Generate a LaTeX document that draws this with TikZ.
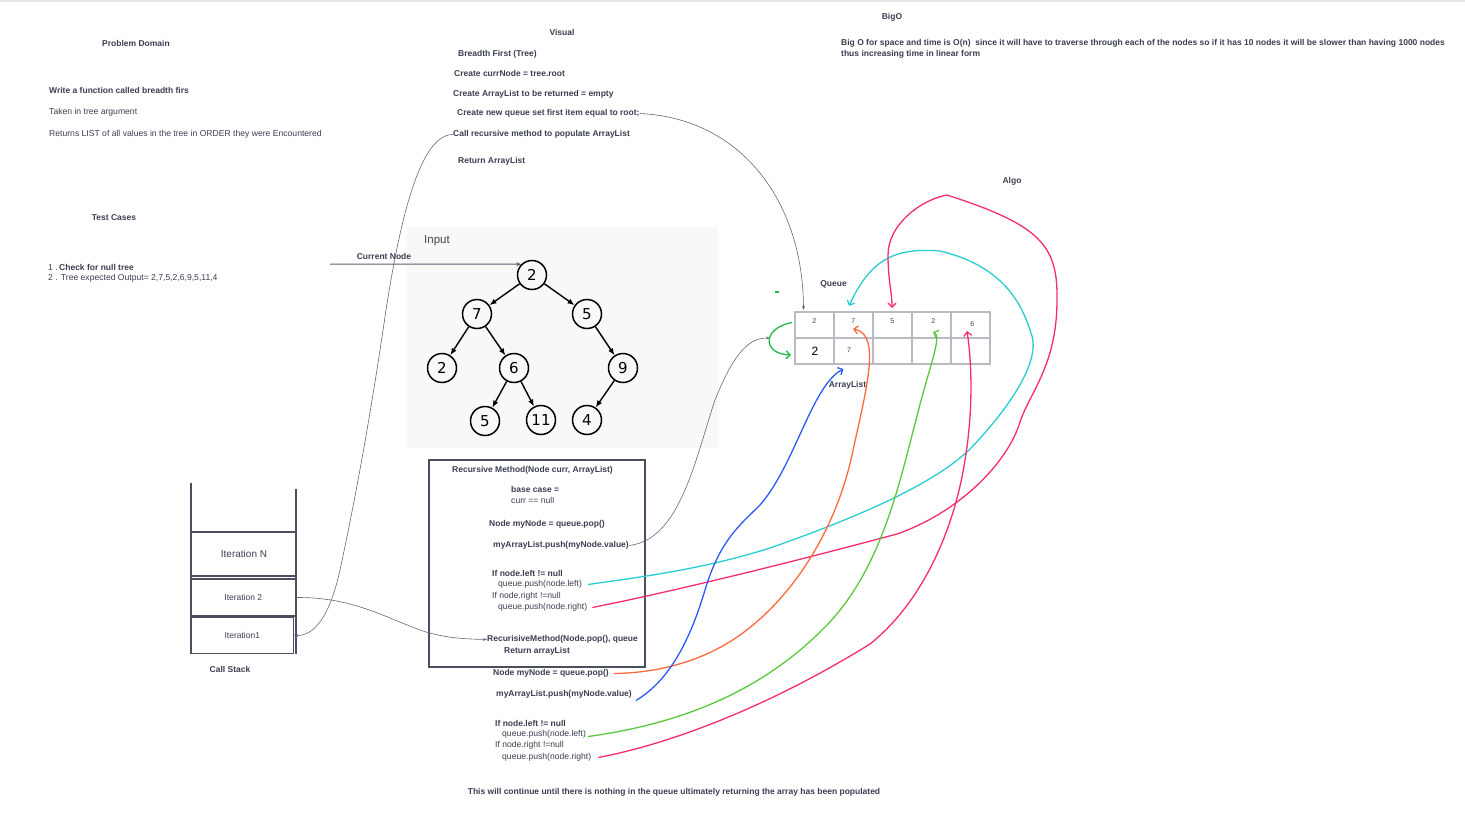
\documentclass[tikz,border=0pt]{standalone}
\usepackage{fontspec}
\setmainfont{Liberation Sans}
\newfontfamily\treefont{DejaVu Sans}
\usetikzlibrary{arrows.meta}
\definecolor{txt}{RGB}{58,62,80}
\definecolor{gridc}{RGB}{185,187,196}
\definecolor{boxc}{RGB}{74,78,94}
\definecolor{conn}{RGB}{100,104,118}
\definecolor{cyanc}{RGB}{40,205,210}
\definecolor{pinkc}{RGB}{245,45,110}
\definecolor{orangec}{RGB}{255,105,60}
\definecolor{bluec}{RGB}{45,90,245}
\definecolor{greenc}{RGB}{90,200,60}
\definecolor{loopc}{RGB}{30,185,70}
\definecolor{panel}{RGB}{248,248,248}
\definecolor{topline}{RGB}{228,228,230}
\begin{document}
\begin{tikzpicture}[x=1pt,y=-1pt,
  bt/.style={font=\fontsize{8.5}{9}\selectfont\bfseries, text=txt, inner sep=0pt, anchor=west},
  rt/.style={font=\fontsize{8.6}{9}\selectfont, text=txt, inner sep=0pt, anchor=west},
  tn/.style={circle, draw=black, line width=1.5pt, minimum size=29pt, inner sep=0pt, font=\treefont\fontsize{15}{15}\selectfont},
  te/.style={-{Latex[length=7pt,width=5.5pt]}, line width=1.4pt},
  cell/.style={draw=gridc, line width=1.3pt, minimum width=39pt, minimum height=26pt, inner sep=0pt},
  ctext/.style={font=\fontsize{7}{8}\selectfont, text=txt, inner sep=0pt},
  stackbox/.style={draw=boxc, line width=1.1pt, inner sep=0pt, text=txt},
  gconn/.style={draw=conn, line width=0.6pt, -{Stealth[length=4pt,width=3pt]}},
  cconn/.style={line width=1.3pt, -{Straight Barb[length=4pt,width=8pt]}}
]
\useasboundingbox (0,0) rectangle (1465,822);
\draw[topline, line width=1.2pt] (0,1) -- (1465,1);

% ---------- left column ----------
\node[bt, anchor=center] (pd) at (136,43.5) {Problem Domain};
\node[bt] (wf) at (49,90.5) {Write a function called breadth firs};
\node[rt] (tk) at (49,112.5) {Taken in tree argument};
\node[rt] (rl) at (49,134.5) {Returns LIST of all values in the tree in ORDER they were Encountered};
\node[bt, anchor=center] (tc) at (114,217.5) {Test Cases};
\node[rt] (tc1) at (48,267.5) {1 .\,{\fontsize{8.5}{9}\selectfont\bfseries Check for null tree}};
\node[rt] (tc2) at (48,278.5) {2 . Tree expected Output= 2,7,5,2,6,9,5,11,4};

% ---------- visual column ----------
\node[bt, anchor=center] (vis) at (562,32.5) {Visual};
\node[bt] (bf) at (458,54.5) {Breadth First (Tree)};
\node[bt] (cc) at (454,73.5) {Create currNode = tree.root};
\node[bt] (ca) at (453,94.5) {Create ArrayList to be returned = empty};
\node[bt] (cq) at (457,113.5) {Create new queue set first item equal to root;};
\node[bt] (cr) at (453,134.5) {Call recursive method to populate ArrayList};
\node[bt] (ra) at (458,161.5) {Return ArrayList};

% ---------- BigO ----------
\node[bt, anchor=center] (bigo) at (892,17.5) {BigO};
\node[bt] (bo1) at (841,43.5) {Big O for space and time is O(n) \ since it will have to traverse through each of the nodes so if it has 10 nodes it will be slower than having 1000 nodes};
\node[bt] (bo2) at (841,54.5) {thus increasing time in linear form};
\node[bt, anchor=center] (algo) at (1012,181.5) {Algo};

% ---------- input panel & tree ----------
\fill[panel] (407,227) rectangle (718,448);
\node[inner sep=0pt, anchor=west, text={rgb,255:red,70;green,70;blue,74}, font=\fontsize{11.5}{12}\selectfont] (inp) at (424,241) {Input};
\node[tn] (r2) at (532,275) {2};
\node[tn] (n7) at (477,314) {7};
\node[tn] (n5) at (587,314) {5};
\node[tn] (l2) at (442,368) {2};
\node[tn] (n6) at (514,368) {6};
\node[tn] (n9) at (623,368) {9};
\node[tn] (m5) at (485,421) {5};
\node[tn] (n11) at (541,420) {11};
\node[tn] (n4) at (587,420) {4};
\draw[te] (r2) -- (n7);
\draw[te] (r2) -- (n5);
\draw[te] (n7) -- (l2);
\draw[te] (n7) -- (n6);
\draw[te] (n5) -- (n9);
\draw[te] (n6) -- (m5);
\draw[te] (n6) -- (n11);
\draw[te] (n9) -- (n4);

\node[bt, anchor=center] (cn) at (384,256.5) {Current Node};
\coordinate (cnstart) at (330,264);
\draw[draw={rgb,255:red,90;green,95;blue,115}, line width=1pt, -{Stealth[length=5pt,width=4pt]}] (cnstart) -- (r2.north west);

% ---------- recursive method box ----------
\node[draw=boxc, line width=1.2pt, minimum width=216pt, minimum height=207pt, inner sep=0pt] (rbox) at (537,563.5) {};
\node[bt] (rh) at (452,470.5) {Recursive Method(Node curr, ArrayList)};
\node[bt] (bc) at (511,489.5) {base case =};
\node[rt] (bc2) at (511,500.5) {curr == null};
\node[bt] (rp) at (489,524.5) {Node myNode = queue.pop()};
\node[bt] (rpush) at (493,545.5) {myArrayList.push(myNode.value)};
\node[bt] (rif1) at (492,573.5) {If node.left != null};
\node[rt] (rql) at (498,584.5) {queue.push(node.left)};
\node[rt] (rif2) at (492,596.5) {If node.right !=null};
\node[rt] (rqr) at (498,607.5) {queue.push(node.right)};
\node[bt] (rrec) at (487,639.5) {RecurisiveMethod(Node.pop(), queue};
\node[bt] (rret) at (504,651.5) {Return arrayList};

% ---------- below box ----------
\node[bt] (bp) at (493,673.5) {Node myNode = queue.pop()};
\node[bt] (bpush) at (496,694.5) {myArrayList.push(myNode.value)};
\node[bt] (bif1) at (495,723.5) {If node.left != null};
\node[rt] (bql) at (502,734.5) {queue.push(node.left)};
\node[rt] (bif2) at (495,745.5) {If node.right !=null};
\node[rt] (bqr) at (502,757.5) {queue.push(node.right)};
\node[bt, anchor=center] (cont) at (674,792.5) {This will continue until there is nothing in the queue ultimately returning the array has been populated};

% ---------- call stack ----------
\draw[boxc, line width=1.1pt] (191,483) -- (191,654);
\draw[boxc, line width=1.1pt] (296,489) -- (296,654);
\node[stackbox, minimum width=105pt, minimum height=44pt, font=\fontsize{10}{11}\selectfont] (itN) at (244,554) {Iteration N};
\node[stackbox, minimum width=104pt, minimum height=37pt, font=\fontsize{8.5}{9}\selectfont] (it2) at (243.3,597.5) {Iteration 2};
\node[stackbox, minimum width=102pt, minimum height=36pt, font=\fontsize{8.5}{9}\selectfont] (it1) at (242.3,635.5) {Iteration1};
\node[bt, anchor=center] (cs) at (230,669.5) {Call Stack};

% ---------- queue / arraylist grid ----------
\node[cell] (q1) at (814.5,325) {};
\node[cell] (q2) at (853.5,325) {};
\node[cell] (q3) at (892.5,325) {};
\node[cell] (q4) at (931.5,325) {};
\node[cell] (q5) at (970.5,325) {};
\node[cell] (a1) at (814.5,351) {};
\node[cell] (a2) at (853.5,351) {};
\node[cell] (a3) at (892.5,351) {};
\node[cell] (a4) at (931.5,351) {};
\node[cell] (a5) at (970.5,351) {};
\node[ctext] (q1t) at (814.3,320.7) {2};
\node[ctext] (q2t) at (853.3,320.7) {7};
\node[ctext] (q3t) at (892.3,320.7) {5};
\node[ctext] (q4t) at (933.3,321.3) {2};
\node[ctext] (q5t) at (972.3,323.7) {6};
\node[inner sep=0pt, text=black, font=\fontsize{12}{12}\selectfont] (a1t) at (815,351.5) {2};
\node[ctext] (a2t) at (849,350) {7};
\node[bt, anchor=center] (qlab) at (833.5,284.5) {Queue};
\node[bt, anchor=center] (alab) at (847.5,385.5) {ArrayList};
\draw[loopc, line width=1.2pt] (775,292) -- (779,292);

% ---------- gray connectors ----------
\coordinate (qtip) at (803.5,310);
\draw[gconn] (cq.east) .. controls (740,118) and (803,200) .. (qtip);
\draw[gconn] (cr.west) .. controls (420,134) and (400,220) .. (386,310)
   .. controls (370,420) and (355,500) .. (340,570)
   .. controls (330,615) and (315,636) .. (it1.east);
\draw[gconn] (it2.east) .. controls (350,597) and (380,615) .. (420,630)
   .. controls (440,637) and (460,639) .. (rrec.west);
\coordinate (gtip) at (770,338);
\draw[gconn] (rpush.east) .. controls (680,540) and (695,460) .. (715,400)
   .. controls (735,350) and (750,338) .. (gtip);

% ---------- coloured connectors ----------
\coordinate (lps) at (792,322.5);
\coordinate (lpe) at (791,355);
\draw[cconn, loopc] (lps) .. controls (762,328) and (762,354) .. (lpe);

\coordinate (cyt) at (849,306);
\draw[cconn, cyanc] ([xshift=6pt]rql.east) .. controls (640,577) and (700,570) .. (770,548)
   .. controls (850,520) and (935,485) .. (972,447)
   .. controls (1005,412) and (1040,365) .. (1032,336)
   .. controls (1025,315) and (1012,268) .. (940,251)
   .. controls (900,248) and (872,255) .. (cyt);

\coordinate (pkt) at (892,308);
\draw[cconn, pinkc] ([xshift=5pt]rqr.east) .. controls (680,590) and (800,560) .. (897,534)
   .. controls (960,512) and (1008,462) .. (1020,422)
   .. controls (1030,392) and (1057,365) .. (1057,300)
   .. controls (1058,245) and (1040,225) .. (947,195)
   .. controls (920,200) and (888,225) .. (888,255)
   .. controls (888,280) and (892,292) .. (pkt);

\coordinate (ort) at (853,329);
\draw[cconn, orangec] ([xshift=5pt]bp.east) .. controls (660,673) and (705,660) .. (740,635)
   .. controls (800,592) and (838,520) .. (852,455)
   .. controls (866,390) and (882,334) .. (ort);

\coordinate (blt) at (843.5,369);
\draw[cconn, bluec] ([xshift=4pt,yshift=-6pt]bpush.east) .. controls (670,680) and (690,640) .. (705,590)
   .. controls (720,540) and (740,525) .. (760,505)
   .. controls (795,465) and (812,385) .. (blt);

\coordinate (grt) at (933,332);
\draw[cconn, greenc] ([xshift=2pt,yshift=-2pt]bql.east) .. controls (680,724) and (760,692) .. (822,630)
   .. controls (882,572) and (900,480) .. (918,412)
   .. controls (930,365) and (942,336) .. (grt);

\coordinate (pk2t) at (967,331);
\draw[cconn, pinkc] ([xshift=7pt]bqr.east) .. controls (680,742) and (780,700) .. (870,644)
   .. controls (925,600) and (955,525) .. (965,460)
   .. controls (975,400) and (970,350) .. (pk2t);
\end{tikzpicture}
\end{document}
